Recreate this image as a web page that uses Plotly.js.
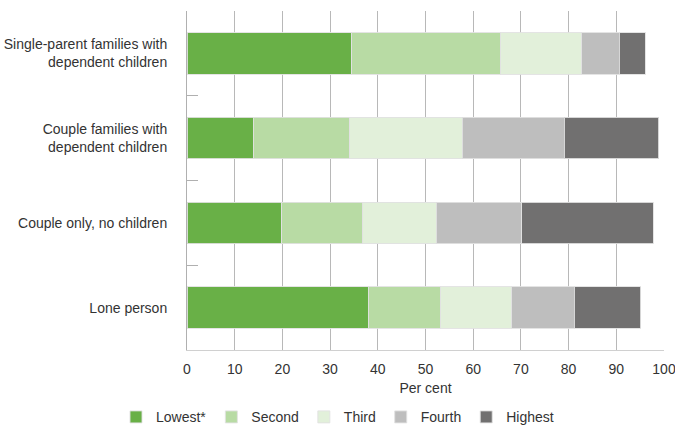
<!DOCTYPE html>
<html>
<head>
<meta charset="utf-8">
<script src="https://cdn.plot.ly/plotly-3.0.1.min.js"></script>
<style>html,body{margin:0;padding:0;background:#fff}#chart{width:675px;height:443px}</style>
</head>
<body>
<div id="chart"></div>
<script>
var categories = [
  "Single-parent families with<br>dependent children",
  "Couple families with<br>dependent children",
  "Couple only, no children",
  "Lone person"
];
var seriesNames = ["Lowest*", "Second", "Third", "Fourth", "Highest"];
var lowest  = [34.5, 13.9, 19.9, 38.0];
var second  = [31.2, 20.2, 16.9, 15.1];
var third   = [17.1, 23.6, 15.5, 15.0];
var fourth  = [7.8, 21.4, 17.9, 13.1];
var highest = [5.5, 19.8, 27.5, 13.9];
var xTicks = [0, 10, 20, 30, 40, 50, 60, 70, 80, 90, 100];

var colors = ["#69b047", "#b8dba4", "#e2f0da", "#bebebe", "#717070"];
var values = [lowest, second, third, fourth, highest];

var traces = values.map(function (v, i) {
  return {
    type: "bar",
    orientation: "h",
    name: seriesNames[i],
    y: categories,
    x: v,
    marker: { color: colors[i], line: { color: "rgba(225,225,225,0.9)", width: 1 } },
    hoverinfo: "x+name"
  };
});

var FONT = "'Liberation Sans', Arial, Helvetica, sans-serif";

var layout = {
  width: 675,
  height: 443,
  margin: { l: 187, r: 11, t: 11, b: 93 },
  barmode: "stack",
  bargap: 0.51,
  paper_bgcolor: "#fff",
  plot_bgcolor: "#fff",
  font: { family: FONT, size: 13, color: "#333333" },
  xaxis: {
    range: [0, 100],
    tickvals: xTicks,
    ticktext: xTicks.map(String),
    showgrid: true,
    gridcolor: "#b8b8b8",
    gridwidth: 1,
    zeroline: false,
    showline: true,
    linecolor: "#d0d0d0",
    linewidth: 1,
    ticks: "",
    ticklabelstandoff: 6,
    ticklabeloverflow: "allow",
    tickfont: { family: FONT, size: 14, color: "#333333" },
    title: { text: "Per cent", font: { family: FONT, size: 14, color: "#333333" }, standoff: 7 },
    fixedrange: true
  },
  yaxis: {
    type: "category",
    categoryorder: "array",
    categoryarray: categories,
    autorange: "reversed",
    showgrid: false,
    zeroline: false,
    showline: true,
    linecolor: "#b0b0b0",
    linewidth: 1,
    ticks: "inside",
    tickson: "boundaries",
    ticklen: 11,
    tickcolor: "#b0b0b0",
    tickwidth: 1,
    ticklabelstandoff: 16,
    tickfont: { family: FONT, size: 14, color: "#333333" },
    fixedrange: true
  },
  showlegend: true,
  legend: {
    orientation: "h",
    xref: "container",
    yref: "container",
    x: 0.5,
    xanchor: "center",
    y: 0.058,
    yanchor: "middle",
    font: { family: FONT, size: 14, color: "#333333" },
    traceorder: "normal"
  }
};

Plotly.newPlot("chart", traces, layout, { displayModeBar: false, staticPlot: true });
</script>
</body>
</html>
